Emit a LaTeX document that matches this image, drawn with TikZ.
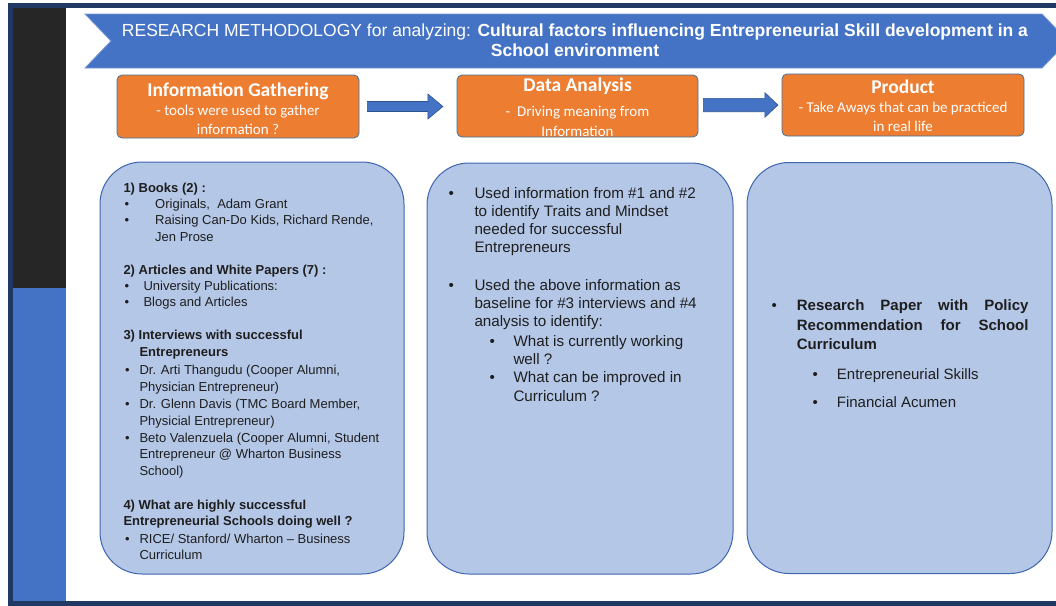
\documentclass[tikz,border=0pt]{standalone}
\usepackage{fontspec}
\setmainfont{Liberation Sans}
\newfontfamily\calib{Carlito}
\usetikzlibrary{calc}
\definecolor{navy}{HTML}{1F3864}
\definecolor{stripdark}{HTML}{262626}
\definecolor{accblue}{HTML}{4472C4}
\definecolor{accorange}{HTML}{ED7D31}
\definecolor{oborder}{HTML}{41719C}
\definecolor{panelfill}{HTML}{B4C7E7}
\definecolor{panelborder}{HTML}{3E66AE}
\definecolor{txt}{HTML}{1E1E1E}
\definecolor{arrborder}{HTML}{2F528F}
\newcounter{lnc}
\newcommand\Ln[4]{\stepcounter{lnc}\node[#1] (t\arabic{lnc}) at (#2,#3) {#4};}
\begin{document}
\begin{tikzpicture}[x=1pt,y=-1pt,
  obox/.style={fill=accorange, draw=oborder, line width=0.8pt, rounded corners=5pt, inner sep=0pt},
  otitle/.style={anchor=base, inner sep=0pt, text=white, font=\calib\bfseries\fontsize{19.5}{22}\selectfont},
  osub/.style={anchor=base, inner sep=0pt, text=white, font=\calib\fontsize{15}{18}\selectfont},
  panel/.style={fill=panelfill, draw=panelborder, line width=1pt, rounded corners=42pt, inner sep=0pt},
  lt/.style={anchor=base west, inner sep=0pt, text=txt, font=\fontsize{13}{15}\selectfont},
  ltb/.style={lt, font=\bfseries\fontsize{13}{15}\selectfont},
  mt/.style={anchor=base west, inner sep=0pt, text=txt, font=\fontsize{15.2}{18}\selectfont},
  rt/.style={anchor=base west, inner sep=0pt, text=txt, font=\fontsize{15}{18}\selectfont},
  rtb/.style={rt, font=\bfseries\fontsize{15}{18}\selectfont},
  arr/.style={fill=accblue, draw=arrborder, line width=0.6pt},
  banner/.style={fill=accblue, draw=accblue!75!white, line width=0.8pt},
  hdr/.style={anchor=base, inner sep=0pt, text=white, font=\fontsize{17.5}{20}\selectfont},
]
\useasboundingbox (0,0) rectangle (1056,605);
\clip (0,0) rectangle (1056,605);

% slide frame and side strip
\fill[stripdark] (12.7,7.5) rectangle (66,288);
\fill[accblue] (12.7,288) rectangle (66,601.5);
\draw[navy, line width=4.4pt] (10.5,5.5) rectangle (1075,603.3);

% header banner
\draw[banner] (85,14) -- (1042,14) -- (1068,41) -- (1042,68) -- (85,68) -- (111,41) -- cycle;
\node[hdr] (title1) at (575,36) {RESEARCH METHODOLOGY for analyzing: \textbf{Cultural factors influencing Entrepreneurial Skill development in a}};
\node[hdr] (title2) at (575,56) {\textbf{School environment}};

% orange step boxes
\node[obox, minimum width=242pt, minimum height=63pt] (ig) at (238,106.5) {};
\node[obox, minimum width=241pt, minimum height=62pt] (da) at (577.5,106) {};
\node[obox, minimum width=242pt, minimum height=62pt] (pr) at (903,105) {};

\node[otitle] (igt) at (238,96) {Information Gathering};
\node[osub] (igs1) at (238,115) {- tools were used to gather};
\node[osub] (igs2) at (238,134.5) {information ?};

\node[otitle] (dat) at (577.5,91) {Data Analysis};
\node[osub] (das1) at (577.5,116.5) {-\ \ Driving meaning from};
\node[osub] (das2) at (577.5,136.5) {Information};

\node[otitle] (prt) at (903,93) {Product};
\node[osub] (prs1) at (903,112.5) {- Take Aways that can be practiced};
\node[osub] (prs2) at (903,131.5) {in real life};

% block arrows between the boxes
\coordinate (a1s) at ($(ig.east)+(8,0)$);
\coordinate (a1t) at ($(a1s -| da.west)+(-13.7,0)$);
\draw[arr] ($(a1s)+(0,-5)$) -- ($(a1t)+(-15,-5)$) -- ($(a1t)+(-15,-12.5)$) -- (a1t)
  -- ($(a1t)+(-15,12.5)$) -- ($(a1t)+(-15,5)$) -- ($(a1s)+(0,5)$) -- cycle;
\coordinate (a2s) at ($(da.east)+(5,-1)$);
\coordinate (a2t) at ($(a2s -| pr.west)+(-3.7,0)$);
\draw[arr] ($(a2s)+(0,-6.7)$) -- ($(a2t)+(-13,-6.7)$) -- ($(a2t)+(-13,-12.3)$) -- (a2t)
  -- ($(a2t)+(-13,12.3)$) -- ($(a2t)+(-13,6.7)$) -- ($(a2s)+(0,6.7)$) -- cycle;

% content panels
\node[panel, minimum width=304pt, minimum height=412pt] (p1) at (252,368) {};
\node[panel, minimum width=306pt, minimum height=411pt] (p2) at (580,368.5) {};
\node[panel, minimum width=305pt, minimum height=411pt] (p3) at (899.5,368) {};

% left panel text
\Ln{ltb}{123.3}{192.5}{1) Books (2) :}
\Ln{lt}{124.4}{208.5}{•}
\Ln{lt}{155}{208.5}{Originals,\ \ Adam Grant}
\Ln{lt}{124.4}{224.7}{•}
\Ln{lt}{155}{224.7}{Raising Can-Do Kids, Richard Rende,}
\Ln{lt}{155}{241}{Jen Prose}
\Ln{ltb}{123.3}{274}{2) Articles and White Papers (7) :}
\Ln{lt}{124.4}{290.5}{•}
\Ln{lt}{143.3}{290.5}{University Publications:}
\Ln{lt}{124.4}{306}{•}
\Ln{lt}{143.3}{306}{Blogs and Articles}
\Ln{ltb}{123.3}{339}{3) Interviews with successful}
\Ln{ltb}{139.3}{356.5}{Entrepreneurs}
\Ln{lt}{124.8}{374}{•}
\Ln{lt}{139.3}{374}{Dr. Arti Thangudu (Cooper Alumni,}
\Ln{lt}{139.3}{391}{Physician Entrepreneur)}
\Ln{lt}{124.8}{408.5}{•}
\Ln{lt}{139.3}{408.5}{Dr. Glenn Davis (TMC Board Member,}
\Ln{lt}{139.3}{425.5}{Physicial Entrepreneur)}
\Ln{lt}{124.8}{442}{•}
\Ln{lt}{139.3}{442}{Beto Valenzuela (Cooper Alumni, Student}
\Ln{lt}{139.3}{458}{Entrepreneur @ Wharton Business}
\Ln{lt}{139.3}{475.5}{School)}
\Ln{ltb}{123.3}{509}{4) What are highly successful}
\Ln{ltb}{123.3}{525.5}{Entrepreneurial Schools doing well ?}
\Ln{lt}{124.8}{543}{•}
\Ln{lt}{139.3}{543}{RICE/ Stanford/ Wharton – Business}
\Ln{lt}{139.3}{559}{Curriculum}

% middle panel text
\Ln{mt}{448.5}{198}{•}
\Ln{mt}{474.3}{198}{Used information from \#1 and \#2}
\Ln{mt}{474.3}{216}{to identify Traits and Mindset}
\Ln{mt}{474.3}{234}{needed for successful}
\Ln{mt}{474.3}{252.5}{Entrepreneurs}
\Ln{mt}{448.5}{290.5}{•}
\Ln{mt}{474.3}{290.5}{Used the above information as}
\Ln{mt}{474.3}{308.5}{baseline for \#3 interviews and \#4}
\Ln{mt}{474.3}{326.5}{analysis to identify:}
\Ln{mt}{489.3}{346}{•}
\Ln{mt}{513.3}{346}{What is currently working}
\Ln{mt}{513.3}{364}{well ?}
\Ln{mt}{489.3}{382.5}{•}
\Ln{mt}{513.3}{382.5}{What can be improved in}
\Ln{mt}{513.3}{401}{Curriculum ?}

% right panel text
\Ln{rt}{771.5}{310.5}{•}
\Ln{rtb}{796.7}{310.5}{\makebox[231.6pt][s]{Research Paper with Policy}}
\Ln{rtb}{796.7}{330.5}{\makebox[231.6pt][s]{Recommendation for School}}
\Ln{rtb}{796.7}{349}{Curriculum}
\Ln{rt}{812.5}{379}{•}
\Ln{rt}{836.7}{379}{Entrepreneurial Skills}
\Ln{rt}{812.5}{407}{•}
\Ln{rt}{836.7}{407}{Financial Acumen}
\end{tikzpicture}
\end{document}
